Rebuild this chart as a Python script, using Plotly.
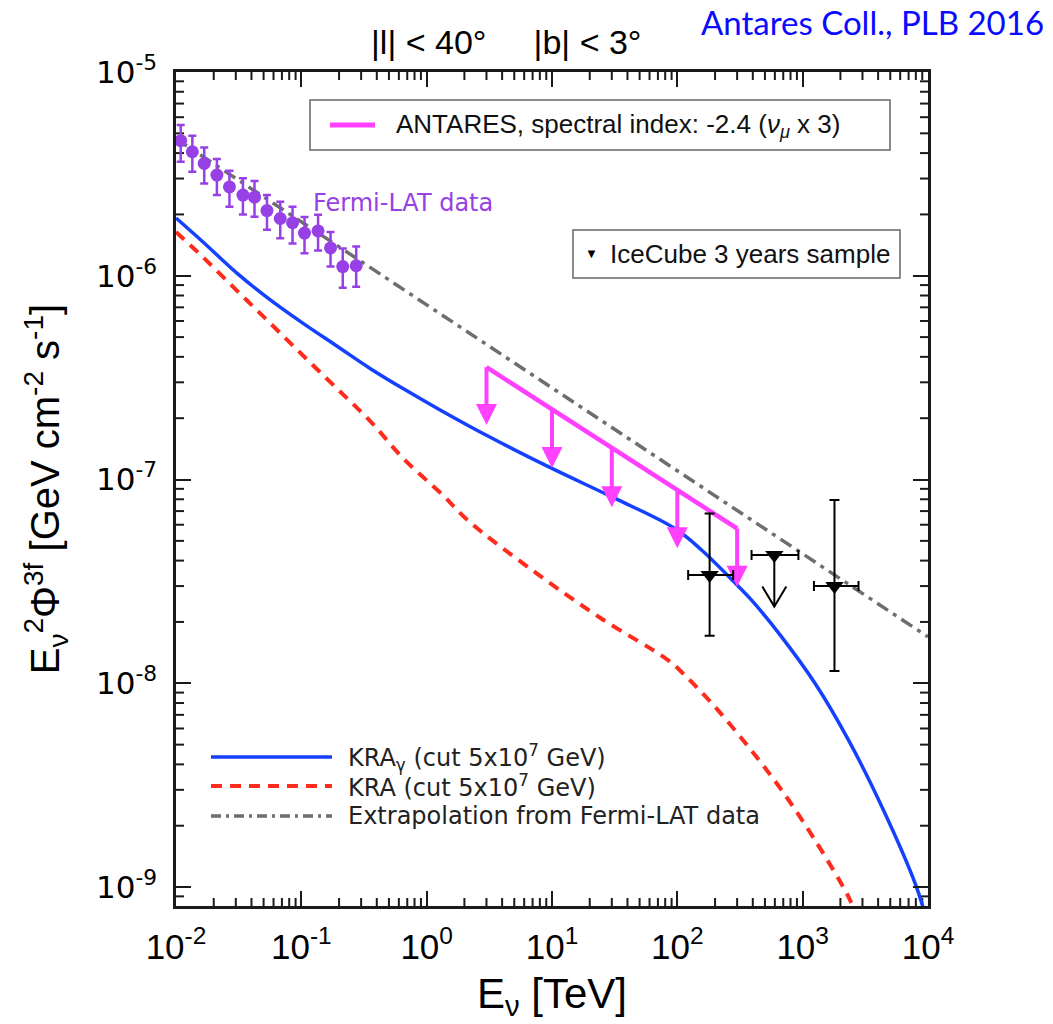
import math
import plotly.graph_objects as go

# ---------------- data ----------------
# Fermi-LAT data points (E in TeV, E^2 Phi in GeV cm^-2 s^-1)
fermi_E = [0.0109, 0.0135, 0.0168, 0.0212, 0.0267, 0.0342, 0.0423, 0.0532,
           0.0679, 0.0851, 0.106, 0.136, 0.171, 0.214, 0.274]
fermi_flux = [4.60e-6, 4.06e-6, 3.56e-6, 3.12e-6, 2.73e-6, 2.49e-6, 2.43e-6, 2.09e-6,
              1.91e-6, 1.82e-6, 1.62e-6, 1.66e-6, 1.37e-6, 1.11e-6, 1.12e-6]
fermi_hi = [5.50e-6, 4.87e-6, 4.26e-6, 3.74e-6, 3.28e-6, 3.01e-6, 2.92e-6, 2.49e-6,
            2.31e-6, 2.18e-6, 1.94e-6, 1.99e-6, 1.64e-6, 1.36e-6, 1.39e-6]
fermi_lo = [3.63e-6, 3.24e-6, 2.84e-6, 2.49e-6, 2.18e-6, 2.00e-6, 1.95e-6, 1.68e-6,
            1.53e-6, 1.44e-6, 1.29e-6, 1.33e-6, 1.11e-6, 8.73e-7, 8.83e-7]

# Extrapolation from Fermi-LAT data (power law)
extrap_E = [0.01, 1.0e4]
extrap_flux = [4.7e-6, 1.69e-8]

# KRA_gamma (cut 5x10^7 GeV)
kra_g_E = [0.01, 0.0165, 0.0306, 0.0565, 0.104, 0.193, 0.356, 0.658, 1.29, 3.05,
           9.8, 31.5, 95, 156, 287, 391, 679, 1254, 2322, 4285, 7909, 9500]
kra_g_flux = [1.92e-6, 1.46e-6, 1.03e-6, 7.61e-7, 5.82e-7, 4.51e-7, 3.50e-7, 2.78e-7,
              2.19e-7, 1.64e-7, 1.14e-7, 8.1e-8, 5.76e-8, 4.51e-8, 3.12e-8, 2.56e-8,
              1.69e-8, 1.0e-8, 5.26e-9, 2.48e-9, 1.04e-9, 7.3e-10]

# KRA (cut 5x10^7 GeV)
kra_E = [0.01, 0.0165, 0.0306, 0.0565, 0.104, 0.193, 0.356, 0.658, 1.37, 2.12,
         7.21, 24.7, 84.3, 114, 199, 368, 679, 1254, 2322, 2600]
kra_flux = [1.64e-6, 1.23e-6, 8.45e-7, 5.85e-7, 4.04e-7, 2.79e-7, 1.93e-7, 1.26e-7,
            8.3e-8, 6.32e-8, 3.53e-8, 2.08e-8, 1.30e-8, 1.10e-8, 7.68e-9, 4.89e-9,
            2.99e-9, 1.70e-9, 8.95e-10, 7.6e-10]

# ANTARES upper limits (spectral index -2.4, nu_mu x 3)
antares_E = [3, 10, 30, 100, 300]
antares_lim = [3.56e-7, 2.21e-7, 1.43e-7, 9.0e-8, 5.75e-8]
antares_tip = [1.85e-7, 1.14e-7, 7.3e-8, 4.6e-8, 2.98e-8]

# IceCube 3 years sample
ic_E = [181, 1794]
ic_E_lo = [122, 1230]
ic_E_hi = [279, 2790]
ic_flux = [3.40e-8, 3.0e-8]
ic_flux_lo = [1.71e-8, 1.15e-8]
ic_flux_hi = [6.82e-8, 7.93e-8]
ic_ul_E = [594]
ic_ul_E_lo = [391]
ic_ul_E_hi = [925]
ic_ul_flux = [4.26e-8]
ic_ul_tip = [2.38e-8]

# axis ticks
x_tickvals = [1e-2, 1e-1, 1e0, 1e1, 1e2, 1e3, 1e4]
x_ticktext = ["10<sup>-2</sup>", "10<sup>-1</sup>", "10<sup>0</sup>", "10<sup>1</sup>",
              "10<sup>2</sup>", "10<sup>3</sup>", "10<sup>4</sup>"]
y_tickvals = [1e-9, 1e-8, 1e-7, 1e-6, 1e-5]
y_ticktext = ["10<sup>-9</sup>", "10<sup>-8</sup>", "10<sup>-7</sup>", "10<sup>-6</sup>", "10<sup>-5</sup>"]
x_range = [-2, 4]
y_range = [-9.093, -5]

# ---------------- style ----------------
W, H = 1053, 1024
ML, MR, MT, MB = 176, 125, 72, 118
PW, PH = W - ML - MR, H - MT - MB
PX_PER_DEC_X = PW / (x_range[1] - x_range[0])
PX_PER_DEC_Y = PH / (y_range[1] - y_range[0])

BLUE = "#1440ff"
RED = "#ff2b1c"
GREY = "#6e6e6e"
PURPLE = "#9640e6"
MAG = "#ff40ff"
AXC = "#1a1a1a"
SANS = "Liberation Sans, Arial, sans-serif"
ROUND = "DejaVu Sans, sans-serif"


def pxx(p):
    return (p - ML) / PW


def pxy(p):
    return (H - MB - p) / PH


fig = go.Figure()

# minor (2..9) log ticks on all four sides, drawn through the axes' own scales
MINOR_LEN = 8
kx_t = 10 ** (MINOR_LEN / PX_PER_DEC_X)
ky_t = 10 ** (MINOR_LEN / PX_PER_DEC_Y)
xlo, xhi = 10 ** x_range[0], 10 ** x_range[1]
ylo, yhi = 10 ** y_range[0], 10 ** y_range[1]
mt_x, mt_y = [], []
for d in range(math.floor(x_range[0]), math.ceil(x_range[1])):
    for m in range(2, 10):
        v = m * 10 ** d
        if xlo < v < xhi:
            mt_x += [v, v, None, v, v, None]
            mt_y += [ylo, ylo * ky_t, None, yhi, yhi / ky_t, None]
for d in range(math.floor(y_range[0]), math.ceil(y_range[1])):
    for m in range(2, 10):
        v = m * 10 ** d
        if ylo < v < yhi:
            mt_x += [xlo, xlo * kx_t, None, xhi, xhi / kx_t, None]
            mt_y += [v, v, None, v, v, None]
fig.add_trace(go.Scatter(x=mt_x, y=mt_y, mode="lines", line=dict(color=AXC, width=2),
                         showlegend=False, hoverinfo="skip", cliponaxis=False))

fig.add_trace(go.Scatter(x=extrap_E, y=extrap_flux, mode="lines",
                         line=dict(color=GREY, width=3.5, dash="13px,6px,4px,6px"),
                         showlegend=False, name="Extrapolation from Fermi-LAT data"))
fig.add_trace(go.Scatter(x=kra_E, y=kra_flux, mode="lines",
                         line=dict(color=RED, width=4, dash="11px,8px", shape="spline", smoothing=1.0),
                         showlegend=False, name="KRA (cut 5x10^7 GeV)"))
fig.add_trace(go.Scatter(x=kra_g_E, y=kra_g_flux, mode="lines",
                         line=dict(color=BLUE, width=3.5, shape="spline", smoothing=1.0),
                         showlegend=False, name="KRAγ (cut 5x10^7 GeV)"))

# Fermi-LAT points
fig.add_trace(go.Scatter(
    x=fermi_E, y=fermi_flux, mode="markers",
    marker=dict(color=PURPLE, size=13),
    error_y=dict(type="data", symmetric=False,
                 array=[h - f for h, f in zip(fermi_hi, fermi_flux)],
                 arrayminus=[f - l for f, l in zip(fermi_flux, fermi_lo)],
                 color=PURPLE, thickness=2.5, width=4),
    showlegend=False, name="Fermi-LAT data"))

# ANTARES limits
fig.add_trace(go.Scatter(x=antares_E, y=antares_lim, mode="lines",
                         line=dict(color=MAG, width=4.5), showlegend=False, name="ANTARES"))
stem_x, stem_y = [], []
stem_cut = 10 ** (12 / PX_PER_DEC_Y)
for e, top, tip in zip(antares_E, antares_lim, antares_tip):
    stem_x += [e, e, None]
    stem_y += [top, tip * stem_cut, None]
fig.add_trace(go.Scatter(x=stem_x, y=stem_y, mode="lines", line=dict(color=MAG, width=4),
                         showlegend=False, hoverinfo="skip"))
fig.add_trace(go.Scatter(x=antares_E, y=antares_tip, mode="markers",
                         marker=dict(symbol="arrow-down", size=21, color=MAG, line=dict(width=0)),
                         showlegend=False, hoverinfo="skip"))

# IceCube
fig.add_trace(go.Scatter(
    x=ic_E, y=ic_flux, mode="markers",
    marker=dict(symbol="triangle-down", size=16, color="black"),
    error_x=dict(type="data", symmetric=False,
                 array=[h - e for h, e in zip(ic_E_hi, ic_E)],
                 arrayminus=[e - l for e, l in zip(ic_E, ic_E_lo)],
                 color="black", thickness=2, width=5),
    error_y=dict(type="data", symmetric=False,
                 array=[h - f for h, f in zip(ic_flux_hi, ic_flux)],
                 arrayminus=[f - l for f, l in zip(ic_flux, ic_flux_lo)],
                 color="black", thickness=2, width=5),
    showlegend=False, name="IceCube 3 years sample"))

kx = 10 ** (12 / PX_PER_DEC_X)
ky = 10 ** (20 / PX_PER_DEC_Y)
ul_x, ul_y = [], []
for e, f, tip in zip(ic_ul_E, ic_ul_flux, ic_ul_tip):
    ul_x += [e, e, None, e / kx, e, e * kx, None]
    ul_y += [f, tip, None, tip * ky, tip, tip * ky, None]
fig.add_trace(go.Scatter(x=ul_x, y=ul_y, mode="lines", line=dict(color="black", width=2),
                         showlegend=False, hoverinfo="skip"))
fig.add_trace(go.Scatter(
    x=ic_ul_E, y=ic_ul_flux, mode="markers",
    marker=dict(symbol="triangle-down", size=16, color="black"),
    error_x=dict(type="data", symmetric=False,
                 array=[h - e for h, e in zip(ic_ul_E_hi, ic_ul_E)],
                 arrayminus=[e - l for e, l in zip(ic_ul_E, ic_ul_E_lo)],
                 color="black", thickness=2, width=5),
    showlegend=False, name="IceCube upper limit"))

# ---------------- axes ----------------
common = dict(type="log", showline=True, linewidth=2.5, linecolor=AXC, mirror="allticks",
              ticks="inside", tickwidth=2, tickcolor=AXC, ticklen=15,
              showgrid=False, zeroline=False, tickmode="array")

fig.update_xaxes(**common, range=x_range, tickvals=x_tickvals, ticktext=x_ticktext,
                 tickfont=dict(family=SANS, size=35, color="black"),
                 ticklabelstandoff=8,
                 title=dict(text="E<sub>ν</sub> [TeV]", font=dict(family=SANS, size=42, color="black"),
                            standoff=14))
fig.update_yaxes(**common, range=y_range, tickvals=y_tickvals, ticktext=y_ticktext,
                 tickfont=dict(family=ROUND, size=31, color="black"),
                 ticklabelstandoff=10,
                 title=dict(text="E<sub>ν</sub><sup>2</sup>Φ<sup>3f</sup> [GeV cm<sup>-2</sup> s<sup>-1</sup>]",
                            font=dict(family=SANS, size=40, color="black"), standoff=24))

shapes = []
annotations = []

# ---------------- legends / labels (drawn as shapes + text) ----------------
# ANTARES box
shapes.append(dict(type="rect", xref="paper", yref="paper", x0=pxx(310), x1=pxx(890),
                   y0=pxy(150), y1=pxy(100), line=dict(color="#666666", width=1.5),
                   fillcolor="white", layer="above"))
shapes.append(dict(type="line", xref="paper", yref="paper", x0=pxx(330), x1=pxx(375),
                   y0=pxy(125), y1=pxy(125), line=dict(color=MAG, width=5), layer="above"))
annotations.append(dict(xref="paper", yref="paper", x=pxx(394), y=pxy(125), xanchor="left",
                        yanchor="middle", showarrow=False,
                        text="ANTARES, spectral index: -2.4 (<i>ν</i><sub><i>μ</i></sub> x 3)",
                        font=dict(family=SANS, size=26, color="#111111")))

# IceCube box
shapes.append(dict(type="rect", xref="paper", yref="paper", x0=pxx(573), x1=pxx(900),
                   y0=pxy(278), y1=pxy(230), line=dict(color="#666666", width=1.5),
                   fillcolor="white", layer="above"))
annotations.append(dict(xref="paper", yref="paper", x=pxx(591), y=pxy(254), xanchor="center",
                        yanchor="middle", showarrow=False, text="▼",
                        font=dict(family=SANS, size=13, color="black")))
annotations.append(dict(xref="paper", yref="paper", x=pxx(608), y=pxy(254), xanchor="left",
                        yanchor="middle", showarrow=False, text="IceCube 3 years sample",
                        font=dict(family=SANS, size=26, color="#111111")))

# Bottom-left legend
rows = [
    (757, dict(color=BLUE, width=3.5), "KRA<sub>γ</sub> (cut 5x10<sup>7</sup> GeV)"),
    (786, dict(color=RED, width=4, dash="11px,8px"), "KRA (cut 5x10<sup>7</sup> GeV)"),
    (816, dict(color=GREY, width=3.5, dash="10px,5px,3px,5px"), "Extrapolation from Fermi-LAT data"),
]
for ypix, ln, txt in rows:
    shapes.append(dict(type="line", xref="paper", yref="paper", x0=pxx(211), x1=pxx(332),
                       y0=pxy(ypix), y1=pxy(ypix), line=ln))
    annotations.append(dict(xref="paper", yref="paper", x=pxx(346), y=pxy(ypix), xanchor="left",
                            yanchor="middle", showarrow=False, text=txt,
                            font=dict(family=ROUND, size=24, color="#222222")))

# Fermi-LAT label
annotations.append(dict(xref="paper", yref="paper", x=pxx(311), y=pxy(203), xanchor="left",
                        yanchor="middle", showarrow=False, text="Fermi-LAT data",
                        font=dict(family=ROUND, size=24, color=PURPLE)))

# Title and citation
annotations.append(dict(xref="paper", yref="paper", x=pxx(506), y=pxy(42), xanchor="center",
                        yanchor="middle", showarrow=False,
                        text="|l|\u00a0<\u00a040°\u00a0\u00a0\u00a0\u00a0\u00a0|b|\u00a0<\u00a03°",
                        font=dict(family=SANS, size=34, color="black")))
annotations.append(dict(xref="paper", yref="paper", x=pxx(1046), y=pxy(22), xanchor="right",
                        yanchor="middle", showarrow=False, text="Antares Coll., PLB 2016",
                        font=dict(family="Lato, Open Sans, sans-serif", size=33, color="#0a0aff")))

fig.update_layout(
    width=W, height=H,
    margin=dict(l=ML, r=MR, t=MT, b=MB, autoexpand=False),
    plot_bgcolor="white", paper_bgcolor="white",
    showlegend=False,
    shapes=shapes, annotations=annotations,
    font=dict(family=SANS, color="black"),
)

fig.write_html("out.html")
